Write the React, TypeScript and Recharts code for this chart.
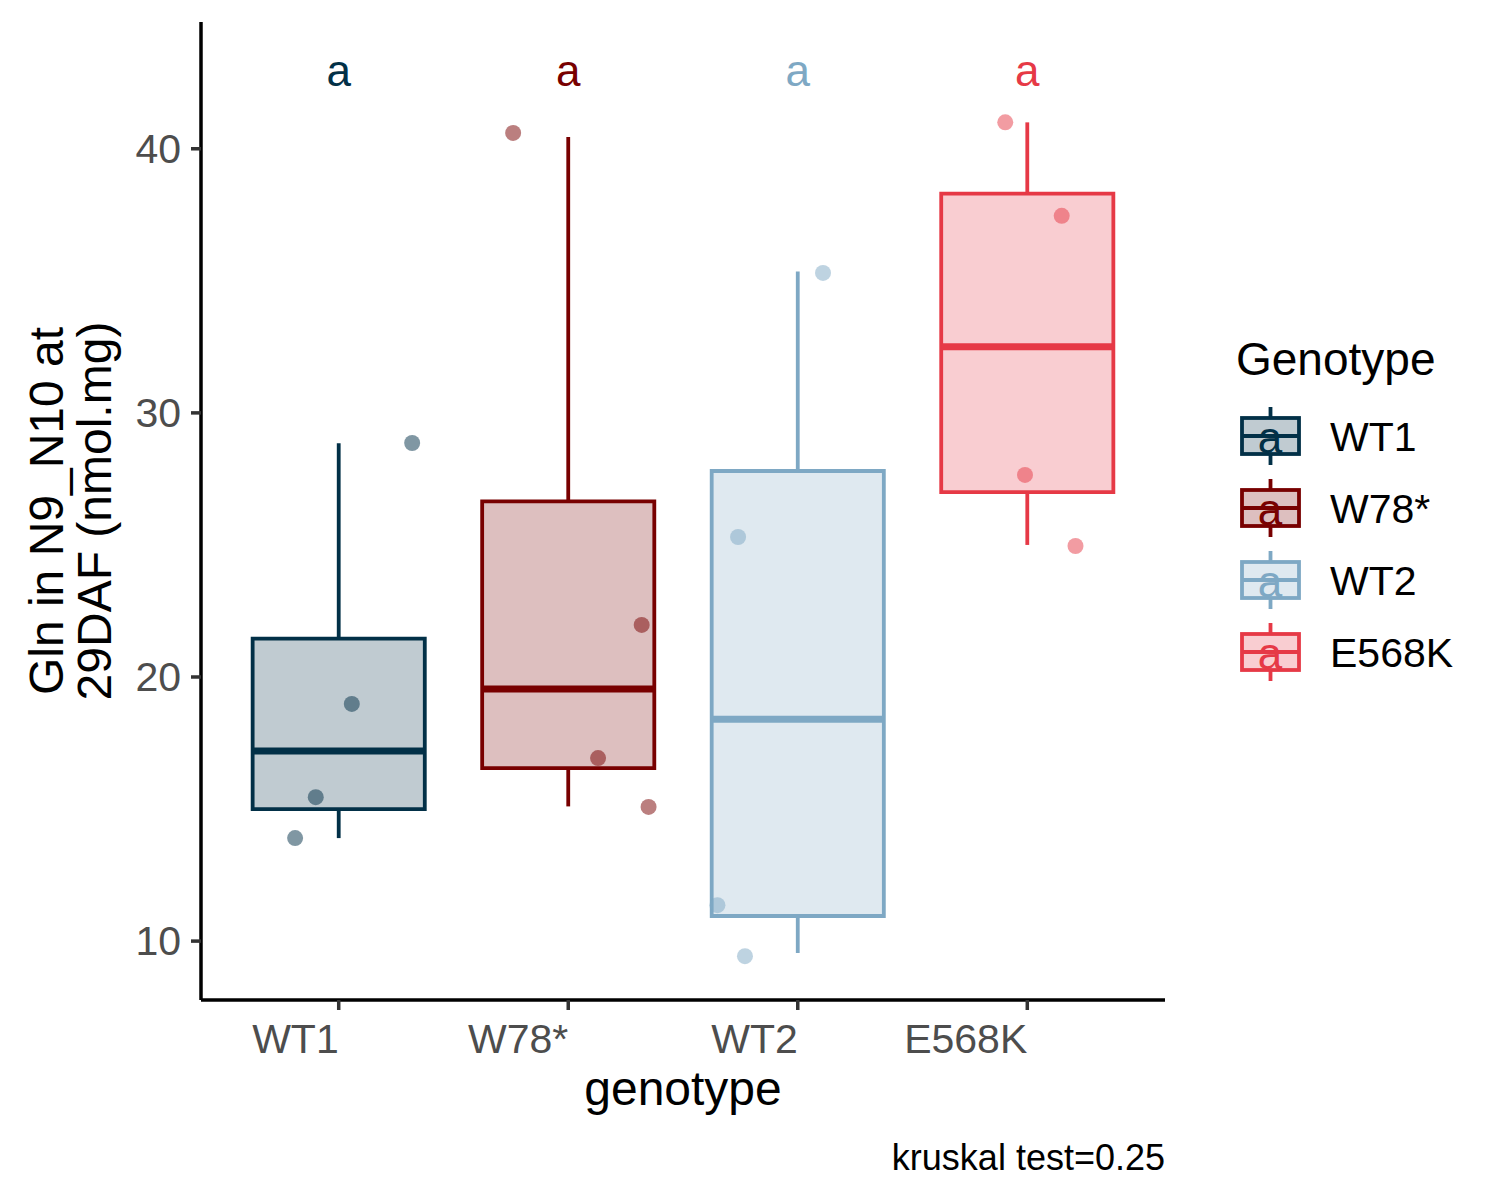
import {
  ComposedChart,
  XAxis,
  YAxis,
  Scatter,
  ReferenceArea,
  ReferenceLine,
} from 'recharts';

const genotypes = ['WT1', 'W78*', 'WT2', 'E568K'];
const colors = ['#023047', '#780000', '#7ea8c4', '#e63946'];

// box statistics
const whiskerLow = [13.9, 15.1, 9.55, 25.0];
const q1 = [15.0, 16.55, 10.95, 27.0];
const median = [17.2, 19.55, 18.4, 32.5];
const q3 = [21.45, 26.65, 27.8, 38.3];
const whiskerHigh = [28.85, 40.45, 35.35, 41.0];

// individual observations per genotype
const wt1Values = [13.9, 15.45, 18.98, 28.86];
const w78Values = [40.6, 21.97, 16.93, 15.08];
const wt2Values = [35.3, 25.3, 11.36, 9.43];
const e568kValues = [41.0, 37.46, 27.65, 24.96];
const pointValues = [wt1Values, w78Values, wt2Values, e568kValues];

// horizontal jitter (category units)
const jitter = [
  [-0.19, -0.1, 0.057, 0.32],
  [-0.24, 0.32, 0.13, 0.35],
  [0.11, -0.26, -0.35, -0.23],
  [-0.096, 0.15, -0.01, 0.21],
];

const letters = ['a', 'a', 'a', 'a'];
const letterY = 43;
const yTicks = [10, 20, 30, 40];

const FONT = 'Arial, "Liberation Sans", sans-serif';
const HALF = 0.375;
const LINE_W = 3.8;

const letterData = genotypes.map((g, i) => ({ x: i + 1, y: letterY, idx: i, label: letters[i] }));

const XTick = ({ x, y, payload }: any) => (
  <text x={x} y={y} dy={33} textAnchor="end" fontSize={41} fill="#4d4d4d" fontFamily={FONT}>
    {genotypes[payload.value - 1]}
  </text>
);

const YTick = ({ x, y, payload }: any) => (
  <text x={x} y={y} dy={14} textAnchor="end" fontSize={41} fill="#4d4d4d" fontFamily={FONT}>
    {payload.value}
  </text>
);

const YLabel = () => (
  <g fontFamily={FONT} fontSize={48} fill="#000">
    <text x={63} y={511} textAnchor="middle" transform="rotate(-90, 63, 511)">
      Gln in N9_N10 at
    </text>
    <text x={111} y={511} textAnchor="middle" transform="rotate(-90, 111, 511)">
      29DAF (nmol.mg)
    </text>
  </g>
);

const XLabel = ({ viewBox }: any) => (
  <text
    x={viewBox.x + viewBox.width / 2}
    y={viewBox.y + 105}
    textAnchor="middle"
    fontSize={48}
    fill="#000"
    fontFamily={FONT}
  >
    genotype
  </text>
);

const LegendOverlay = () => (
  <svg width={1500} height={1200} style={{ position: 'absolute', left: 0, top: 0, pointerEvents: 'none' }}>
    <text x={1236} y={375} fontSize={46} fontFamily={FONT} fill="#000">
      Genotype
    </text>
    {genotypes.map((g, i) => {
      const cy = 436 + i * 72;
      const c = colors[i];
      return (
        <g key={g}>
          <line x1={1270.5} x2={1270.5} y1={cy - 29} y2={cy - 18} stroke={c} strokeWidth={LINE_W} />
          <line x1={1270.5} x2={1270.5} y1={cy + 18} y2={cy + 29} stroke={c} strokeWidth={LINE_W} />
          <rect x={1242} y={cy - 18} width={57} height={36} fill={c} fillOpacity={0.25} stroke={c} strokeWidth={LINE_W} />
          <line x1={1242} x2={1299} y1={cy} y2={cy} stroke={c} strokeWidth={LINE_W} />
          <text x={1270} y={cy + 17} textAnchor="middle" fontSize={44} fontFamily={FONT} fill={c}>
            {letters[i]}
          </text>
          <text x={1330} y={cy + 15} fontSize={41} fontFamily={FONT} fill="#000">
            {g}
          </text>
        </g>
      );
    })}
    <text x={1165} y={1170} textAnchor="end" fontSize={36} fontFamily={FONT} fill="#000">
      kruskal test=0.25
    </text>
  </svg>
);

export default function App() {
  return (
    <div style={{ position: 'absolute', left: 0, top: 0, width: 1500, height: 1200, background: '#fff' }}>
      <ComposedChart width={1500} height={1200} margin={{ top: 22, right: 335, bottom: 0, left: 0 }}>
        <XAxis
          type="number"
          dataKey="x"
          domain={[0.4, 4.6]}
          ticks={[1, 2, 3, 4]}
          allowDataOverflow
          height={200}
          tickSize={10}
          tickMargin={10}
          tick={<XTick />}
          tickLine={{ stroke: '#333', strokeWidth: 3.5 }}
          axisLine={{ stroke: '#000', strokeWidth: 3.5 }}
          label={<XLabel />}
        />
        <YAxis
          type="number"
          dataKey="y"
          domain={[7.77, 44.8]}
          ticks={yTicks}
          allowDataOverflow
          width={201}
          tickSize={10}
          tickMargin={10}
          tick={<YTick />}
          tickLine={{ stroke: '#333', strokeWidth: 3.5 }}
          axisLine={{ stroke: '#000', strokeWidth: 3.5 }}
          label={<YLabel />}
        />
        {genotypes.map((g, i) => (
          <ReferenceLine
            key={`wl-${g}`}
            segment={[{ x: i + 1, y: whiskerLow[i] }, { x: i + 1, y: q1[i] }]}
            stroke={colors[i]}
            strokeWidth={LINE_W}
          />
        ))}
        {genotypes.map((g, i) => (
          <ReferenceLine
            key={`wh-${g}`}
            segment={[{ x: i + 1, y: q3[i] }, { x: i + 1, y: whiskerHigh[i] }]}
            stroke={colors[i]}
            strokeWidth={LINE_W}
          />
        ))}
        {genotypes.map((g, i) => (
          <ReferenceArea
            key={`box-${g}`}
            x1={i + 1 - HALF}
            x2={i + 1 + HALF}
            y1={q1[i]}
            y2={q3[i]}
            fill={colors[i]}
            fillOpacity={0.25}
            stroke={colors[i]}
            strokeWidth={LINE_W}
            strokeOpacity={1}
          />
        ))}
        {genotypes.map((g, i) => (
          <ReferenceLine
            key={`med-${g}`}
            segment={[{ x: i + 1 - HALF, y: median[i] }, { x: i + 1 + HALF, y: median[i] }]}
            stroke={colors[i]}
            strokeWidth={7}
          />
        ))}
        {genotypes.map((g, i) => (
          <Scatter
            key={`pts-${g}`}
            name={g}
            data={pointValues[i].map((v, j) => ({ x: i + 1 + jitter[i][j], y: v }))}
            isAnimationActive={false}
            shape={(p: any) => <circle cx={p.cx} cy={p.cy} r={8} fill={colors[i]} fillOpacity={0.5} />}
          />
        ))}
        <Scatter
          data={letterData}
          isAnimationActive={false}
          shape={(p: any) => (
            <text
              x={p.cx}
              y={p.cy}
              dy={16}
              textAnchor="middle"
              fontSize={44}
              fontFamily={FONT}
              fill={colors[p.payload.idx]}
            >
              {p.payload.label}
            </text>
          )}
        />
      </ComposedChart>
      <LegendOverlay />
    </div>
  );
}
